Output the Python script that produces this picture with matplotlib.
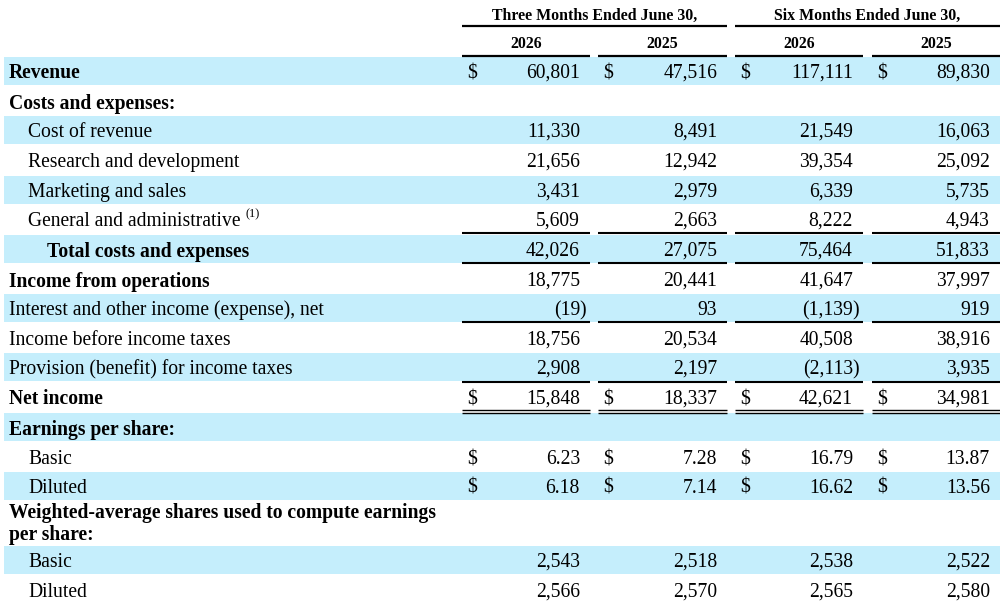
import matplotlib.pyplot as plt

plt.rcParams['font.family'] = 'serif'
plt.rcParams['font.serif'] = ['Liberation Serif', 'DejaVu Serif']

# column headers
periods = ['Three Months Ended June 30,', 'Six Months Ended June 30,']
years = ['2026', '2025', '2026', '2025']

# row labels
labels = [
    'Revenue', 'Costs and expenses:', 'Cost of revenue', 'Research and development',
    'Marketing and sales', 'General and administrative', 'Total costs and expenses',
    'Income from operations', 'Interest and other income (expense), net',
    'Income before income taxes', 'Provision (benefit) for income taxes', 'Net income',
    'Earnings per share:', 'Basic', 'Diluted',
    'Weighted-average shares used to compute earnings\nper share:', 'Basic', 'Diluted',
]
indent = [0, 0, 1, 1, 1, 1, 2, 0, 0, 0, 0, 0, 0, 1, 1, 0, 1, 1]
bold = [1, 1, 0, 0, 0, 0, 1, 1, 0, 0, 0, 1, 1, 0, 0, 1, 0, 0]

# values per column (None = empty)
q2_2026 = [60801, None, 11330, 21656, 3431, 5609, 42026, 18775, -19, 18756, 2908, 15848,
           None, 6.23, 6.18, None, 2543, 2566]
q2_2025 = [47516, None, 8491, 12942, 2979, 2663, 27075, 20441, 93, 20534, 2197, 18337,
           None, 7.28, 7.14, None, 2518, 2570]
h1_2026 = [117111, None, 21549, 39354, 6339, 8222, 75464, 41647, -1139, 40508, -2113, 42621,
           None, 16.79, 16.62, None, 2538, 2565]
h1_2025 = [89830, None, 16063, 25092, 5735, 4943, 51833, 37997, 919, 38916, 3935, 34981,
           None, 13.87, 13.56, None, 2522, 2580]
columns = [q2_2026, q2_2025, h1_2026, h1_2025]

dollar_rows = {0, 11, 13, 14}
decimal_rows = {13, 14}
band_rows = {0, 2, 4, 6, 8, 10, 12, 14, 16}

# layout (pixels)
row_y = [71, 101, 130, 160, 190, 219, 249, 279, 308, 338, 367, 397, 427, 457, 486, 524, 560, 590]
seg = [(462, 590), (598, 727), (735, 863), (872, 1000)]
band_c = '#c5eefc'
fs = 14.1

fig = plt.figure(figsize=(10, 6.06), dpi=100)
ax = fig.add_axes([0, 0, 1, 1])
ax.set_xlim(0, 1000)
ax.set_ylim(606, 0)
ax.axis('off')

# header
for i, p in enumerate(periods):
    x0, x1 = seg[2 * i][0], seg[2 * i + 1][1]
    ax.text((x0 + x1) / 2, 16, p, ha='center', va='center', fontsize=11.4, fontweight='bold')
    ax.plot([x0, x1], [26, 26], color='black', lw=1.6, solid_capstyle='butt')
for j, yr in enumerate(years):
    x0, x1 = seg[j]
    ax.text((x0 + x1) / 2, 44, yr, ha='center', va='center', fontsize=11.4, fontweight='bold')
    ax.plot([x0, x1], [56, 56], color='black', lw=1.6, solid_capstyle='butt')

# bands
for r in band_rows:
    y = row_y[r]
    ax.fill_between([4, 1000], y - 14.3, y + 14.3, color=band_c, lw=0, zorder=0)

renderer = fig.canvas.get_renderer()

# labels and values
for r, lab in enumerate(labels):
    y = row_y[r]
    x = 9 + indent[r] * 19
    t = ax.text(x, y, lab, ha='left', va='center_baseline' if '\n' not in lab else 'center',
                fontsize=fs, fontweight='bold' if bold[r] else 'normal', linespacing=1.08)
    if lab == 'General and administrative':
        bb = t.get_window_extent(renderer)
        xe = ax.transData.inverted().transform((bb.x1, 0))[0]
        ax.text(xe + 5, y - 5, '(1)', ha='left', va='center', fontsize=9)
    for j, col in enumerate(columns):
        v = col[r]
        if v is None:
            continue
        xr = seg[j][1] - 10
        s = f'{abs(v):,.2f}' if r in decimal_rows else f'{abs(v):,}'
        if v < 0:
            ax.text(xr, y, '(' + s, ha='right', va='center_baseline', fontsize=fs)
            ax.text(xr - 0.5, y, ')', ha='left', va='center_baseline', fontsize=fs)
        else:
            ax.text(xr, y, s, ha='right', va='center_baseline', fontsize=fs)
        if r in dollar_rows:
            ax.text(seg[j][0] + 5, y, '$', ha='left', va='center_baseline', fontsize=fs)

# underlines
for y in [233, 263, 322, 382]:
    for x0, x1 in seg:
        ax.plot([x0, x1], [y, y], color='black', lw=1.5, solid_capstyle='butt')
for y in [409.5, 413]:
    for x0, x1 in seg:
        ax.plot([x0, x1], [y, y], color='black', lw=1.0, solid_capstyle='butt')

fig.savefig('out.png', dpi=100)
